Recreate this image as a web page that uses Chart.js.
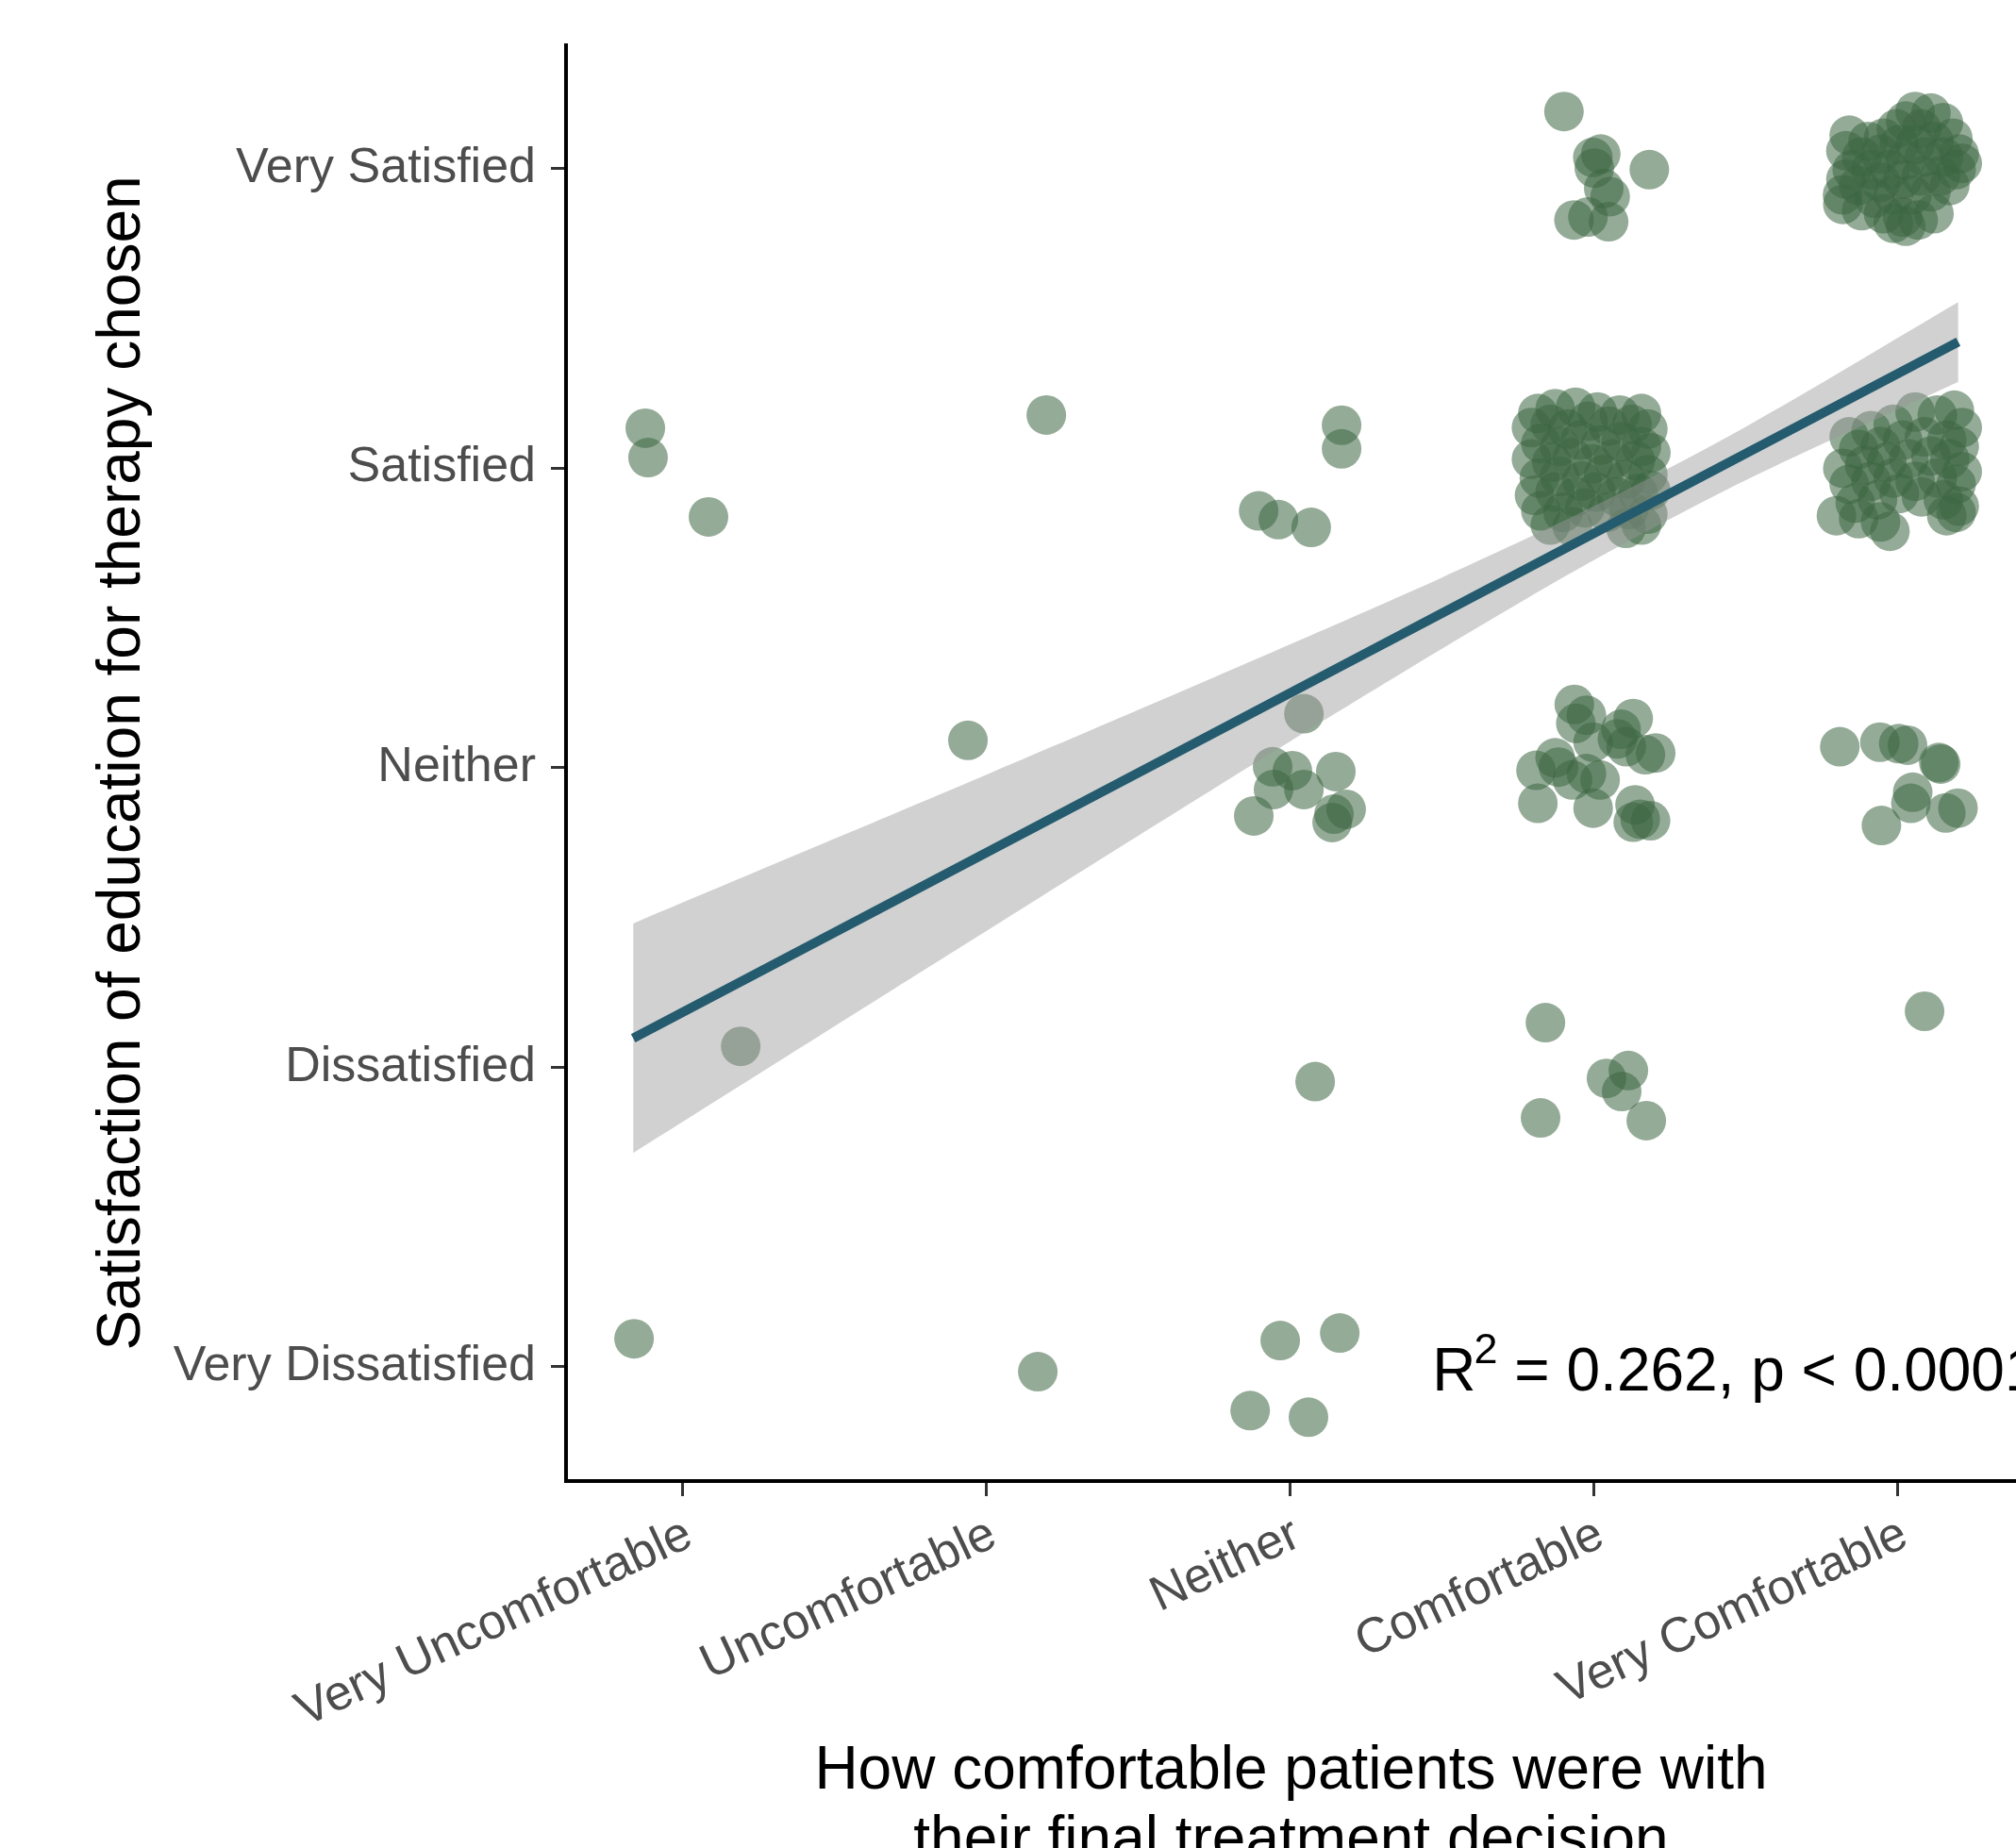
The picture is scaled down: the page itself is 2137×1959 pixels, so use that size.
<!DOCTYPE html>
<html>
<head>
<meta charset="utf-8">
<script src="https://cdn.jsdelivr.net/npm/chart.js@4.4.1/dist/chart.umd.min.js"></script>
<style>
  html, body { margin: 0; padding: 0; background: #ffffff; overflow: hidden; }
  #wrap { width: 2137px; height: 1959px; }
</style>
</head>
<body>
<div id="wrap"><canvas id="c" width="2137" height="1959"></canvas></div>
<script>
// ---- categories / tick labels ----
const comfortLevels = ['Very Uncomfortable', 'Uncomfortable', 'Neither', 'Comfortable', 'Very Comfortable'];
const satisfactionLevels = ['Very Dissatisfied', 'Dissatisfied', 'Neither', 'Satisfied', 'Very Satisfied'];
const xTickValues = [1, 2, 3, 4, 5];
const yTickValues = [1, 2, 3, 4, 5];
const xTitle = ['How comfortable patients were with', 'their final treatment decision'];
const yTitle = 'Satisfaction of education for therapy chosen';

// ---- jittered responses (comfort = x, satisfaction = y) ----
const respX = [
  // Very Uncomfortable
  0.879, 0.888, 1.087, 1.193, 0.842,
  // Uncomfortable
  2.199, 1.941, 2.171,
  // Neither
  3.171, 3.171, 2.898, 2.963, 3.071,
  3.047, 2.944, 3.009, 3.152, 2.947, 3.047, 2.882, 3.146, 3.140, 3.186,
  3.084,
  2.969, 3.165, 2.870, 3.062,
  // Comfortable - Very Satisfied
  3.903, 3.998, 4.024, 4.003, 4.034, 4.055, 4.184, 3.936, 3.982, 4.050,
  // Comfortable - Satisfied
  3.817, 3.874, 3.941, 4.013, 4.086, 4.158,
  3.796, 3.858, 3.915, 3.982, 4.050, 4.127, 4.179,
  3.827, 3.889, 3.957, 4.024, 4.091, 4.158,
  3.796, 3.863, 3.931, 3.998, 4.065, 4.138, 4.189,
  3.822, 3.889, 3.962, 4.034, 4.107, 4.179,
  3.806, 3.874, 3.941, 4.008, 4.076, 4.148, 4.189,
  3.827, 3.900, 3.972, 4.045, 4.117, 4.179,
  3.858, 3.931, 4.107, 4.158,
  // Comfortable - Neither
  3.937, 3.977, 3.942, 4.131, 4.091, 3.999, 4.079, 4.108, 4.205, 4.171, 3.874,
  3.811, 3.885, 3.931, 3.977, 4.022, 3.817, 3.999, 4.137, 4.131, 4.188, 4.154,
  // Comfortable - Dissatisfied
  3.842, 4.043, 4.115, 4.093, 3.826, 4.174,
  // Very Comfortable - Very Satisfied
  5.059, 5.111, 5.028, 5.152, 5.080, 4.997, 4.842, 4.904, 4.955, 4.831, 4.883,
  4.945, 5.007, 5.059, 5.121, 5.183, 5.204, 5.152, 5.090, 5.028, 4.976, 4.914,
  4.852, 4.831, 4.873, 4.945, 5.018, 5.080, 5.142, 5.194, 5.173, 5.111, 5.049,
  4.987, 4.925, 4.821, 4.883, 4.955, 5.018, 5.069, 5.121, 5.028, 4.987, 5.214, 4.820,
  // Very Comfortable - Satisfied
  5.059, 5.132, 5.188, 5.214, 4.987, 4.914, 4.842,
  4.873, 4.945, 5.018, 5.090, 5.163, 5.204,
  4.821, 4.893, 4.966, 5.038, 5.111, 5.173, 5.214,
  4.842, 4.914, 4.987, 5.059, 5.132, 5.194,
  4.800, 4.862, 4.935, 5.007, 5.080, 5.152, 5.204,
  4.873, 4.945, 4.976, 5.163, 5.194,
  // Very Comfortable - Neither
  4.811, 4.943, 5.005, 5.034, 5.137, 5.143, 5.051, 5.045, 4.948, 5.160, 5.200,
  // Very Comfortable - Dissatisfied
  5.090
];
const respY = [
  4.133, 4.035, 3.837, 2.070, 1.094,
  4.177, 3.091, 0.984,
  4.143, 4.064, 3.857, 3.828, 3.802,
  3.180, 3.003, 2.990, 2.987, 2.927, 2.927, 2.839, 2.845, 2.817, 2.861,
  1.952,
  1.088, 1.113, 0.854, 0.832,
  5.190, 5.037, 5.048, 5.001, 4.933, 4.906, 4.996, 4.828, 4.838, 4.822,
  4.182, 4.198, 4.203, 4.187, 4.177, 4.182,
  4.135, 4.146, 4.130, 4.156, 4.140, 4.146, 4.130,
  4.082, 4.072, 4.093, 4.077, 4.088, 4.072,
  4.030, 4.019, 4.035, 4.014, 4.030, 4.025, 4.051,
  3.967, 3.972, 3.957, 3.978, 3.962, 3.978,
  3.909, 3.920, 3.904, 3.920, 3.904, 3.915, 3.925,
  3.857, 3.852, 3.867, 3.852, 3.862, 3.846,
  3.810, 3.804, 3.799, 3.810,
  3.211, 3.175, 3.148, 3.164, 3.128, 3.085, 3.096, 3.070, 3.049, 3.043, 3.033,
  2.991, 3.002, 2.959, 2.980, 2.959, 2.881, 2.865, 2.876, 2.818, 2.823, 2.828,
  2.149, 1.963, 1.989, 1.919, 1.831, 1.822,
  5.190, 5.185, 5.158, 5.153, 5.132, 5.132, 5.111, 5.090, 5.101, 5.059, 5.038,
  5.048, 5.080, 5.080, 5.090, 5.101, 5.048, 5.038, 5.038, 5.027, 4.996, 4.996,
  4.996, 4.964, 4.943, 4.954, 4.964, 4.975, 4.975, 4.996, 4.943, 4.922, 4.912,
  4.912, 4.901, 4.880, 4.859, 4.849, 4.838, 4.828, 4.849, 4.807, 4.817, 5.017, 4.912,
  4.187, 4.177, 4.193, 4.135, 4.146, 4.125, 4.104,
  4.062, 4.072, 4.093, 4.104, 4.093, 4.072,
  3.999, 4.009, 4.020, 4.030, 4.040, 4.030, 3.988,
  3.946, 3.956, 3.967, 3.956, 3.967, 3.946,
  3.841, 3.883, 3.894, 3.915, 3.904, 3.894, 3.873,
  3.831, 3.820, 3.789, 3.841, 3.852,
  3.070, 3.085, 3.080, 3.075, 3.017, 3.012, 2.918, 2.881, 2.807, 2.849, 2.865,
  2.187
];

// ---- linear fit and its confidence band ----
const fitX = [0.839, 5.201];
const fitY = [2.097, 4.421];
const bandX = [0.839, 1.5, 2.0, 2.5, 3.0, 3.5, 4.0, 4.5, 5.201];
const bandUpper = [2.480, 2.762, 2.976, 3.192, 3.411, 3.634, 3.872, 4.137, 4.554];
const bandLower = [1.714, 2.136, 2.454, 2.772, 3.087, 3.396, 3.692, 3.959, 4.288];

// ---- annotation ----
const statR2 = '0.262';
const statP = 'p < 0.0001';
const annotX = 4.47;
const annotY = 1;

const FONT = '"Liberation Sans", Arial, Helvetica, sans-serif';

const toXY = (xs, ys) => xs.map((x, i) => ({ x: x, y: ys[i] }));

const annotationPlugin = {
  id: 'r2annotation',
  afterDatasetsDraw(chart) {
    const ctx = chart.ctx;
    const xs = chart.scales.x, ys = chart.scales.y;
    const cx = xs.getPixelForValue(annotX);
    const cy = ys.getPixelForValue(annotY);
    const big = 64, small = 45;
    const rest = ' = ' + statR2 + ', ' + statP;
    ctx.save();
    ctx.fillStyle = '#000000';
    ctx.textBaseline = 'alphabetic';
    ctx.textAlign = 'left';
    ctx.font = big + 'px ' + FONT;
    const wR = ctx.measureText('R').width;
    const wRest = ctx.measureText(rest).width;
    ctx.font = small + 'px ' + FONT;
    const w2 = ctx.measureText('2').width;
    const total = wR + w2 + wRest;
    let x0 = cx - total / 2;
    const base = cy + 0.39 * big;
    ctx.font = big + 'px ' + FONT;
    ctx.fillText('R', x0, base);
    ctx.font = small + 'px ' + FONT;
    ctx.fillText('2', x0 + wR - 2, base - 29);
    ctx.font = big + 'px ' + FONT;
    ctx.fillText(rest, x0 + wR + w2 - 2, base);
    ctx.restore();
  }
};

new Chart(document.getElementById('c'), {
  type: 'scatter',
  data: {
    datasets: [
      {
        label: 'responses',
        data: toXY(respX, respY),
        pointRadius: 21,
        pointHoverRadius: 21,
        pointBorderWidth: 0,
        pointBackgroundColor: 'rgba(60,102,66,0.55)',
        pointBorderColor: 'rgba(0,0,0,0)',
        order: 3
      },
      {
        type: 'line',
        label: 'ci upper',
        data: toXY(bandX, bandUpper),
        borderWidth: 0,
        borderColor: 'rgba(0,0,0,0)',
        pointRadius: 0,
        tension: 0.3,
        fill: '+1',
        backgroundColor: 'rgba(153,153,153,0.45)',
        order: 2
      },
      {
        type: 'line',
        label: 'ci lower',
        data: toXY(bandX, bandLower),
        borderWidth: 0,
        borderColor: 'rgba(0,0,0,0)',
        pointRadius: 0,
        tension: 0.3,
        fill: false,
        order: 2
      },
      {
        type: 'line',
        label: 'fit',
        data: toXY(fitX, fitY),
        borderColor: '#255B6E',
        borderWidth: 10,
        pointRadius: 0,
        fill: false,
        order: 1
      }
    ]
  },
  options: {
    responsive: false,
    devicePixelRatio: 1,
    animation: false,
    events: [],
    layout: { autoPadding: false, padding: { top: 48, right: 0, bottom: 0, left: 0 } },
    plugins: {
      legend: { display: false },
      tooltip: { enabled: false },
      title: { display: false }
    },
    scales: {
      x: {
        type: 'linear',
        position: 'bottom',
        min: 0.618,
        max: 5.391,
        afterBuildTicks: (s) => { s.ticks = xTickValues.map(v => ({ value: v })); },
        afterFit: (s) => { s.height = 389; s.paddingLeft = 0; s.paddingRight = 0; },
        ticks: {
          autoSkip: false,
          minRotation: 25,
          maxRotation: 25,
          padding: 15,
          labelOffset: 8,
          color: '#4D4D4D',
          font: { family: FONT, size: 52, lineHeight: 1.0 },
          callback: (v) => comfortLevels[xTickValues.indexOf(v)] || ''
        },
        grid: {
          display: true,
          drawOnChartArea: false,
          drawTicks: true,
          tickLength: 16,
          tickWidth: 3,
          tickColor: '#333333',
          lineWidth: 3,
          color: '#333333'
        },
        border: { display: true, color: '#000000', width: 4 },
        title: {
          display: true,
          text: xTitle,
          color: '#000000',
          font: { family: FONT, size: 64, lineHeight: 1.15 },
          padding: { top: 0, bottom: -30 }
        }
      },
      y: {
        type: 'linear',
        position: 'left',
        min: 0.619,
        max: 5.411,
        afterBuildTicks: (s) => { s.ticks = yTickValues.map(v => ({ value: v })); },
        afterFit: (s) => { s.width = 600; s.paddingTop = 0; s.paddingBottom = 0; },
        ticks: {
          autoSkip: false,
          padding: 16,
          color: '#4D4D4D',
          font: { family: FONT, size: 52 },
          callback: (v) => satisfactionLevels[yTickValues.indexOf(v)] || ''
        },
        grid: {
          display: true,
          drawOnChartArea: false,
          drawTicks: true,
          tickLength: 16,
          tickWidth: 3,
          tickColor: '#333333',
          lineWidth: 3,
          color: '#333333'
        },
        border: { display: true, color: '#000000', width: 4 },
        title: {
          display: true,
          text: yTitle,
          color: '#000000',
          font: { family: FONT, size: 64, lineHeight: 1.2 },
          padding: { top: 92, bottom: 0 }
        }
      }
    }
  },
  plugins: [annotationPlugin]
});
</script>
</body>
</html>
